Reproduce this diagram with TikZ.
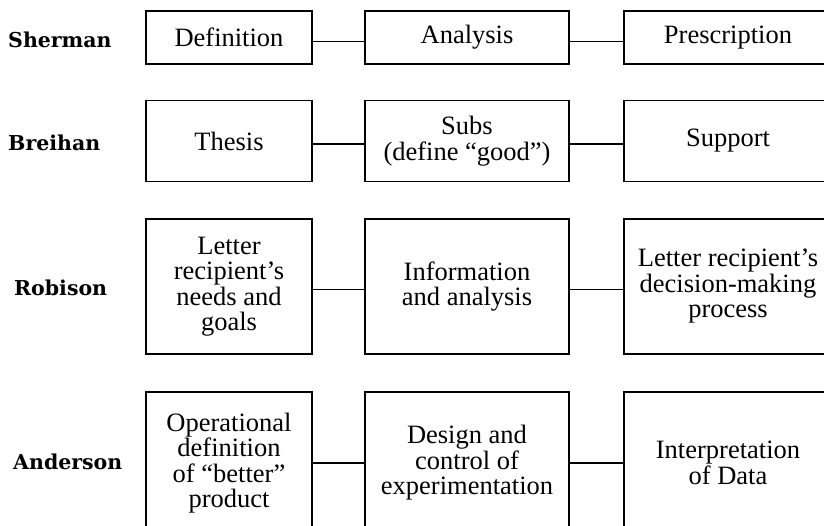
\documentclass[tikz,border=0pt]{standalone}
\usepackage{fontspec}
\setmainfont{Liberation Serif}
\newfontfamily\whofont{DejaVu Serif}
\begin{document}
\begin{tikzpicture}[x=1pt,y=-1pt,
  box/.style={draw, line width=1.7pt, align=center, inner sep=0pt, font=\fontsize{26.5}{25.5}\selectfont},
  cA/.style={box, minimum width=166pt},
  cB/.style={box, minimum width=204pt},
  cC/.style={box, minimum width=208pt},
  rA/.style={minimum height=53pt},
  rB/.style={minimum height=81pt},
  rC/.style={minimum height=135pt},
  rD/.style={minimum height=142pt},
  who/.style={anchor=west, inner sep=0pt, font=\whofont\fontsize{20.5}{22}\selectfont\bfseries},
  link/.style={line width=1.7pt}]
\useasboundingbox (0,0) rectangle (824,525);
\clip (0,0) rectangle (824,525);

% names
\node[who] (nS) at (8,40) {Sherman};
\node[who] (nB) at (8,143) {Breihan};
\node[who] (nR) at (14,288) {Robison};
\node[who] (nA) at (13,462) {Anderson};

% row 1
\node[cA,rA] (s1) at (229,37.5) {Definition};
\node[cB,rA] (s2) at (467,37.5) {Analysis};
\node[cC,rA] (s3) at (728,37.5) {Prescription};
% row 2
\node[cA,rB] (b1) at (229,141) {Thesis};
\node[cB,rB] (b2) at (467,141) {Subs\\(define ``good'')};
\node[cC,rB] (b3) at (728,141) {Support};
% row 3
\node[cA,rC] (r1) at (229,286.5) {Letter\\recipient's\\needs and\\goals};
\node[cB,rC] (r2) at (467,286.5) {Information\\and analysis};
\node[cC,rC] (r3) at (728,286.5) {Letter recipient's\\decision-making\\process};
% row 4
\node[cA,rD] (a1) at (229,463) {Operational\\definition\\of ``better''\\product};
\node[cB,rD] (a2) at (467,463) {Design and\\control of\\experimentation};
\node[cC,rD] (a3) at (728,463) {Interpretation\\of Data};

% connectors
\draw[link] ([yshift=-4pt]s1.east) -- ([yshift=-4pt]s2.west);
\draw[link] ([yshift=-4pt]s2.east) -- ([yshift=-4pt]s3.west);
\draw[link] ([yshift=-3pt]b1.east) -- ([yshift=-3pt]b2.west);
\draw[link] ([yshift=-3pt]b2.east) -- ([yshift=-3pt]b3.west);
\draw[link] ([yshift=-3pt]r1.east) -- ([yshift=-3pt]r2.west);
\draw[link] ([yshift=-3pt]r2.east) -- ([yshift=-3pt]r3.west);
\draw[link] (a1.east) -- (a2.west);
\draw[link] (a2.east) -- (a3.west);
\end{tikzpicture}
\end{document}
